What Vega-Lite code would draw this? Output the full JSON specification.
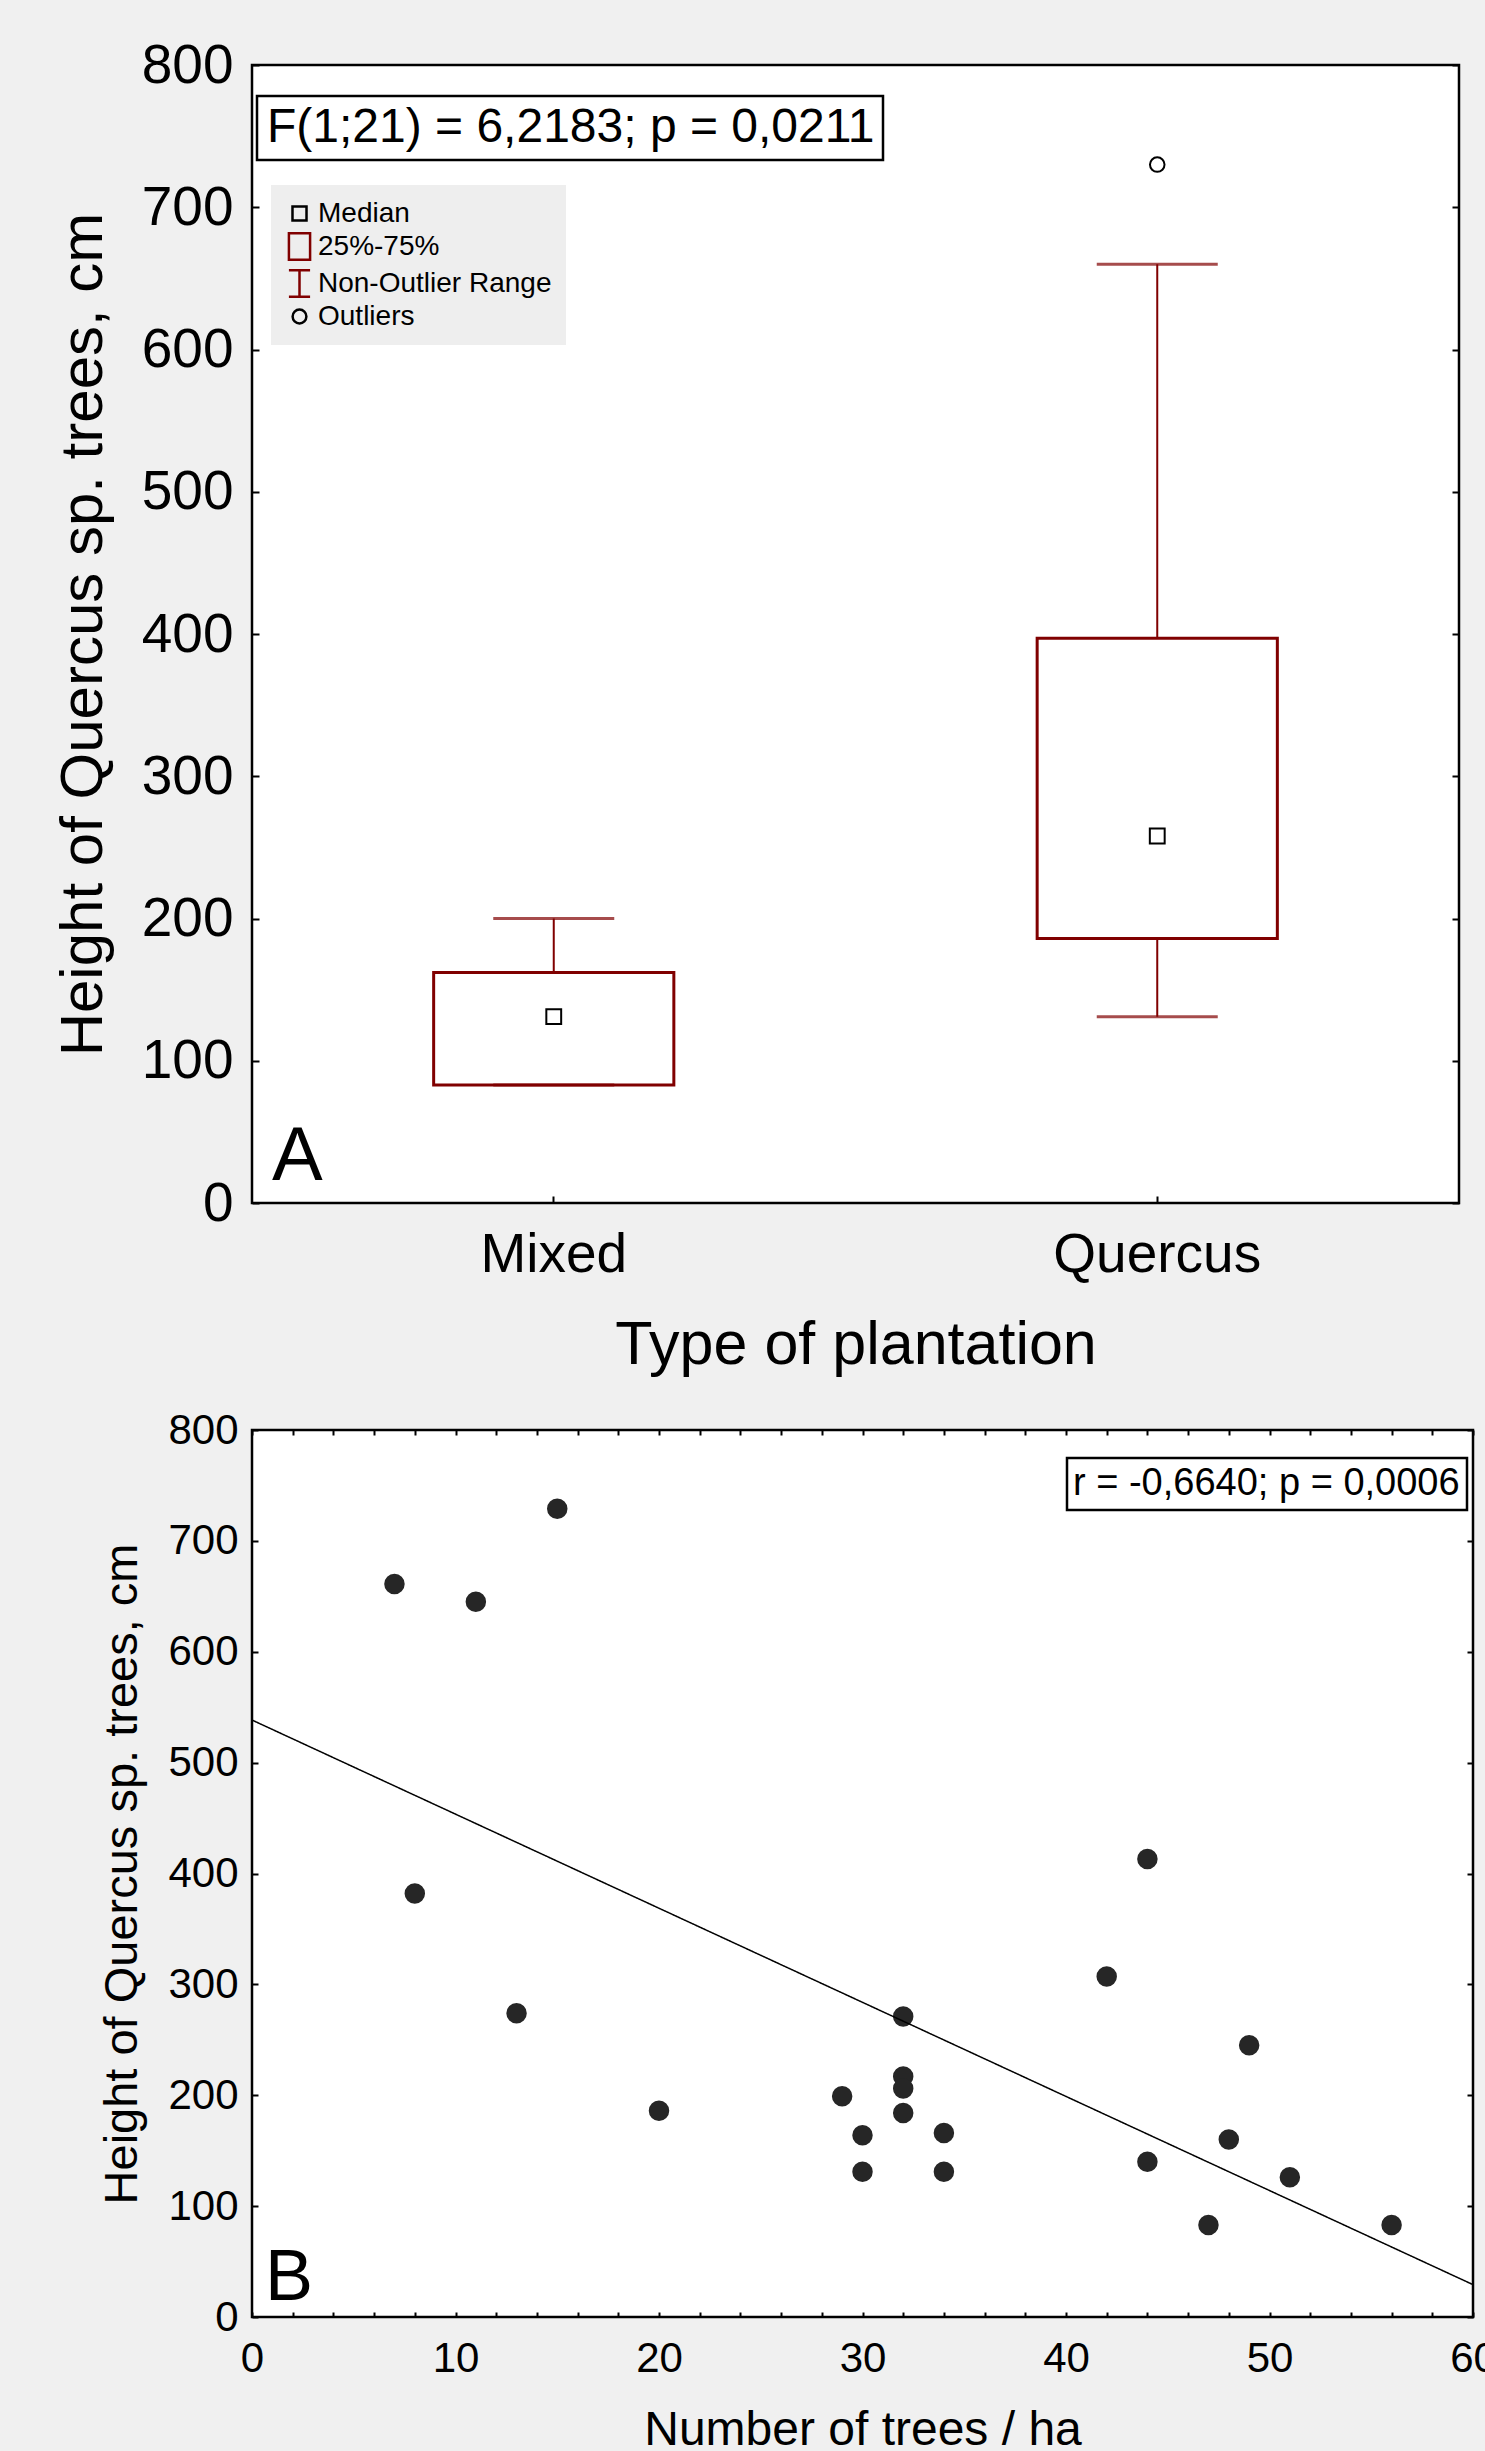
{
  "$schema": "https://vega.github.io/schema/vega-lite/v6.json",
  "background": "#f0f0f0",
  "autosize": {"type": "pad"},
  "padding": {"left": 51, "top": 36, "right": 0, "bottom": 30},
  "config": {
    "font": "Liberation Sans",
    "view": {"fill": "white", "stroke": "black", "strokeWidth": 2.5},
    "axis": {"domain": false, "grid": false, "tickColor": "black", "tickWidth": 2, "labelColor": "black", "titleColor": "black", "titleFontWeight": "normal", "labelFont": "Liberation Sans", "titleFont": "Liberation Sans", "labelLimit": 1000},
    "legend": {"strokeWidth": 2.5, "labelFont": "Liberation Sans", "labelColor": "black", "labelLimit": 2000}
  },
  "datasets": {
    "stats": [
      {"type": "Mixed", "min": 83, "q1": 83, "median": 131, "q3": 162, "max": 200},
      {"type": "Quercus", "min": 131, "q1": 186, "median": 258, "q3": 397, "max": 660}
    ],
    "pts": [
      {"type": "Mixed", "value": 131, "kind": "Median"},
      {"type": "Quercus", "value": 258, "kind": "Median"},
      {"type": "Quercus", "value": 730, "kind": "Outliers"}
    ],
    "trees": [
      {"n": 15, "height": 729}, {"n": 7, "height": 661}, {"n": 11, "height": 645},
      {"n": 8, "height": 382}, {"n": 13, "height": 274}, {"n": 20, "height": 186},
      {"n": 29, "height": 199}, {"n": 30, "height": 164}, {"n": 30, "height": 131},
      {"n": 32, "height": 271}, {"n": 32, "height": 217}, {"n": 32, "height": 206},
      {"n": 32, "height": 184}, {"n": 34, "height": 166}, {"n": 34, "height": 131},
      {"n": 42, "height": 307}, {"n": 44, "height": 413}, {"n": 44, "height": 140},
      {"n": 47, "height": 83}, {"n": 48, "height": 160}, {"n": 49, "height": 245},
      {"n": 51, "height": 126}, {"n": 56, "height": 83}
    ]
  },
  "bounds": "flush",
  "spacing": 227,
  "resolve": {"scale": {"strokeDash": "independent"}, "legend": {"strokeDash": "independent"}},
  "vconcat": [
    {
      "width": 1207,
      "height": 1138,
      "title": {"text": "A", "orient": "top", "anchor": "start", "frame": "group", "offset": -1218, "dx": 20, "baseline": "alphabetic", "fontSize": 76, "fontWeight": "normal", "color": "black", "font": "Liberation Sans"},
      "encoding": {
        "x": {
          "field": "type", "type": "nominal",
          "scale": {"domain": ["Mixed", "Quercus"], "paddingInner": 0.602, "paddingOuter": 0.301},
          "axis": {"title": "Type of plantation", "orient": "bottom", "labelAngle": 0, "labelFontSize": 55, "titleFontSize": 61, "tickSize": -7, "labelPadding": 32, "titlePadding": 33}
        }
      },
      "layer": [
        {
          "data": {"name": "stats"},
          "mark": {"type": "rule", "color": "#800000", "strokeWidth": 2},
          "encoding": {
            "y": {"field": "min", "type": "quantitative", "scale": {"domain": [0, 800], "nice": false},
                  "axis": {"orient": "left", "title": "Height of Quercus sp. trees, cm", "values": [0, 100, 200, 300, 400, 500, 600, 700, 800], "labelFontSize": 55, "titleFontSize": 60, "tickSize": -7, "labelPadding": 26, "titlePadding": 27}},
            "y2": {"field": "max"},
            "strokeDash": {"datum": "F(1;21) = 6,2183; p = 0,0211", "type": "nominal", "scale": {"range": [[1, 0]]},
                           "legend": {"title": null, "orient": "none", "legendX": 5, "legendY": 31, "fillColor": "white", "strokeColor": "black", "padding": 8, "symbolSize": 0, "symbolOpacity": 0, "symbolStrokeWidth": 0, "labelOffset": -46, "labelFontSize": 48}}
          }
        },
        {
          "data": {"name": "stats"},
          "mark": {"type": "bar", "fill": "white", "stroke": "#800000", "strokeWidth": 3},
          "encoding": {
            "y": {"field": "q1", "type": "quantitative", "scale": {"domain": [0, 800], "nice": false},
                  "axis": {"orient": "right", "labels": false, "title": null, "values": [0, 100, 200, 300, 400, 500, 600, 700, 800], "tickSize": -7}},
            "y2": {"field": "q3"}
          }
        },
        {
          "data": {"name": "stats"},
          "mark": {"type": "tick", "color": "#800000", "size": 121, "thickness": 3},
          "encoding": {"y": {"field": "min", "type": "quantitative", "scale": {"domain": [0, 800], "nice": false}, "axis": null}}
        },
        {
          "data": {"name": "stats"},
          "mark": {"type": "tick", "color": "#800000", "size": 121, "thickness": 3},
          "encoding": {"y": {"field": "max", "type": "quantitative", "scale": {"domain": [0, 800], "nice": false}, "axis": null}}
        },
        {
          "data": {"name": "pts"},
          "mark": {"type": "point", "filled": false, "strokeWidth": 2, "size": 784, "opacity": 1},
          "encoding": {
            "y": {"field": "value", "type": "quantitative", "scale": {"domain": [0, 800], "nice": false}, "axis": null},
            "shape": {"field": "kind", "type": "nominal",
                      "scale": {"domain": ["Median", "25%-75%", "Non-Outlier Range", "Outliers"],
                                "range": ["M-0.53,-0.53H0.53V0.53H-0.53Z", "M-0.8,-1H0.8V1H-0.8Z", "M-0.8,-1H0.8M0,-1V1M-0.8,1H0.8", "M0.52,0A0.52,0.52,0,1,1,-0.52,0A0.52,0.52,0,1,1,0.52,0Z"]},
                      "legend": {"title": null, "orient": "none", "legendX": 19, "legendY": 120, "fillColor": "#eeeeee", "padding": 14, "symbolSize": 700, "symbolStrokeWidth": 2.5, "labelFontSize": 28, "labelOffset": 4, "rowPadding": 0}},
            "stroke": {"field": "kind", "type": "nominal",
                       "scale": {"domain": ["Median", "25%-75%", "Non-Outlier Range", "Outliers"], "range": ["black", "#800000", "#800000", "black"]},
                       "legend": {"title": null, "orient": "none", "legendX": 19, "legendY": 120, "fillColor": "#eeeeee", "padding": 14, "symbolSize": 700, "symbolStrokeWidth": 2.5, "labelFontSize": 28, "labelOffset": 4, "rowPadding": 0}}
          }
        }
      ],
      "resolve": {"axis": {"y": "independent"}}
    },
    {
      "width": 1221,
      "height": 887,
      "title": {"text": "B", "orient": "top", "anchor": "start", "frame": "group", "offset": -963, "dx": 13, "baseline": "alphabetic", "fontSize": 72, "fontWeight": "normal", "color": "black", "font": "Liberation Sans"},
      "data": {"name": "trees"},
      "layer": [
        {
          "mark": {"type": "circle", "size": 420, "color": "#262626", "opacity": 1},
          "encoding": {
            "x": {"field": "n", "type": "quantitative", "scale": {"domain": [0, 60], "nice": false},
                  "axis": {"orient": "bottom", "title": "Number of trees / ha", "values": [0, 2, 4, 6, 8, 10, 12, 14, 16, 18, 20, 22, 24, 26, 28, 30, 32, 34, 36, 38, 40, 42, 44, 46, 48, 50, 52, 54, 56, 58, 60],
                           "labelExpr": "datum.value % 10 === 0 ? datum.label : ''", "labelOverlap": false, "labelFlush": false, "labelFontSize": 42, "titleFontSize": 48, "tickSize": -5, "labelPadding": 26, "titlePadding": 27}},
            "y": {"field": "height", "type": "quantitative", "scale": {"domain": [0, 800], "nice": false},
                  "axis": {"orient": "left", "title": "Height of Quercus sp. trees, cm", "values": [0, 100, 200, 300, 400, 500, 600, 700, 800], "labelFontSize": 42, "titleFontSize": 47, "tickSize": -6, "labelPadding": 20, "titlePadding": 21}}
          }
        },
        {
          "transform": [{"regression": "height", "on": "n", "extent": [0, 60]}],
          "mark": {"type": "line", "color": "black", "strokeWidth": 1.5},
          "encoding": {
            "x": {"field": "n", "type": "quantitative", "scale": {"domain": [0, 60], "nice": false},
                  "axis": {"orient": "top", "labels": false, "title": null, "values": [0, 2, 4, 6, 8, 10, 12, 14, 16, 18, 20, 22, 24, 26, 28, 30, 32, 34, 36, 38, 40, 42, 44, 46, 48, 50, 52, 54, 56, 58, 60], "tickSize": -5}},
            "y": {"field": "height", "type": "quantitative", "scale": {"domain": [0, 800], "nice": false},
                  "axis": {"orient": "right", "labels": false, "title": null, "values": [0, 100, 200, 300, 400, 500, 600, 700, 800], "tickSize": -6}},
            "strokeDash": {"datum": "r = -0,6640; p = 0,0006", "type": "nominal", "scale": {"range": [[1, 0]]},
                           "legend": {"title": null, "orient": "none", "legendX": 815, "legendY": 28, "fillColor": "white", "strokeColor": "black", "padding": 7, "symbolSize": 0, "symbolOpacity": 0, "symbolStrokeWidth": 0, "labelOffset": -39, "labelFontSize": 38}}
          }
        }
      ],
      "resolve": {"axis": {"x": "independent", "y": "independent"}}
    }
  ]
}
